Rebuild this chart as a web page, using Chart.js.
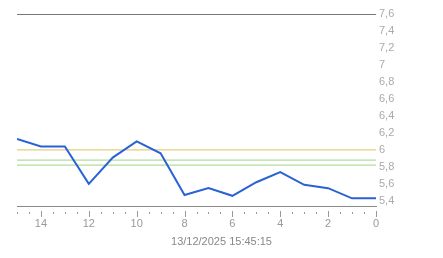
<!DOCTYPE html>
<html>
<head>
<meta charset="utf-8">
<script src="https://cdn.jsdelivr.net/npm/chart.js@4"></script>
<style>
  html, body { margin: 0; padding: 0; background: #fff; }
  #wrap { width: 443px; height: 258px; }
</style>
</head>
<body>
<div id="wrap"><canvas id="chart" width="443" height="258"></canvas></div>
<script>
const xValues = [15, 14, 13, 12, 11, 10, 9, 8, 7, 6, 5, 4, 3, 2, 1, 0];
const series = [6.13, 6.04, 6.04, 5.60, 5.91, 6.10, 5.96, 5.47, 5.55, 5.46, 5.62, 5.74, 5.59, 5.55, 5.43, 5.43];
const yellowLevel = 6.0;
const greenLevels = [5.88, 5.82];
const xTickLabels = [14, 12, 10, 8, 6, 4, 2, 0];
const yTickLabels = [5.4, 5.6, 5.8, 6, 6.2, 6.4, 6.6, 6.8, 7, 7.2, 7.4, 7.6];
const yMin = 5.34;
const yMax = 7.6;
const stamp = '13/12/2025 15:45:15';

const font = "'Liberation Sans', Arial, sans-serif";

const levelLine = (y, color) => ({
  data: [{ x: xValues[0], y: y }, { x: xValues[xValues.length - 1], y: y }],
  borderColor: color,
  borderWidth: 1.2,
  pointRadius: 0,
  fill: false
});

// small tick marks under the x axis and the timestamp
const extras = {
  id: 'extras',
  afterDraw(chart) {
    const ctx = chart.ctx;
    const x = chart.scales.x;
    const bottom = chart.chartArea.bottom;
    ctx.save();
    ctx.strokeStyle = '#999';
    ctx.lineWidth = 1;
    for (let v = 0; v <= 15; v += 0.5) {
      const px = Math.round(x.getPixelForValue(v)) + 0.5;
      const major = xTickLabels.includes(v);
      ctx.beginPath();
      ctx.moveTo(px, bottom + (major ? 5 : 6));
      ctx.lineTo(px, bottom + (major ? 11 : 8));
      ctx.stroke();
    }
    ctx.fillStyle = '#888';
    ctx.font = '11px ' + font;
    ctx.textAlign = 'center';
    ctx.textBaseline = 'middle';
    ctx.fillText(stamp, chart.width / 2, 242);
    ctx.restore();
  }
};

new Chart(document.getElementById('chart'), {
  type: 'line',
  data: {
    datasets: [
      {
        data: xValues.map((x, i) => ({ x: x, y: series[i] })),
        borderColor: '#2a62d6',
        borderWidth: 2,
        pointRadius: 0,
        tension: 0,
        fill: false
      },
      levelLine(yellowLevel, '#e2cf7e'),
      levelLine(greenLevels[0], '#b2dc9e'),
      levelLine(greenLevels[1], '#b2dc9e')
    ]
  },
  options: {
    responsive: false,
    animation: false,
    layout: { padding: { left: 17, top: 14, right: 0, bottom: 0 } },
    plugins: { legend: { display: false }, tooltip: { enabled: false } },
    scales: {
      x: {
        type: 'linear',
        reverse: true,
        min: 0,
        max: 15,
        afterBuildTicks: (s) => { s.ticks = xTickLabels.map(v => ({ value: v })); },
        afterFit: (s) => { s.height = 52; },
        grid: { display: false, drawTicks: false },
        border: { display: true, color: '#888', width: 1 },
        ticks: {
          padding: 11,
          maxRotation: 0,
          color: '#999',
          font: { family: font, size: 11 }
        }
      },
      y: {
        position: 'right',
        min: yMin,
        max: yMax,
        afterBuildTicks: (s) => { s.ticks = yTickLabels.map(v => ({ value: v })); },
        afterFit: (s) => { s.width = 67; },
        border: { display: false },
        grid: {
          drawTicks: false,
          color: (c) => (c.tick && c.tick.value === yMax ? '#777' : 'rgba(0,0,0,0)')
        },
        ticks: {
          padding: 3,
          color: '#aaa',
          font: { family: font, size: 11 },
          callback: (v) => String(v).replace('.', ',')
        }
      }
    }
  },
  plugins: [extras]
});
</script>
</body>
</html>
